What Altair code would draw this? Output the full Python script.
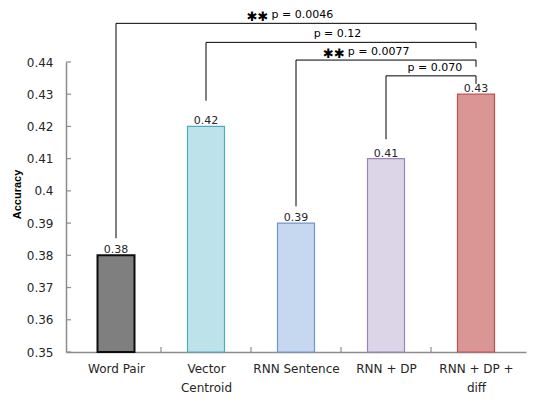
import altair as alt
import pandas as pd

# ---- data ----
categories = ["Word Pair", "Vector Centroid", "RNN Sentence", "RNN + DP", "RNN + DP + diff"]
axis_labels = ["Word Pair", "Vector|Centroid", "RNN Sentence", "RNN + DP", "RNN + DP +|diff"]
accuracy = [0.38, 0.42, 0.39, 0.41, 0.43]
value_labels = ["0.38", "0.42", "0.39", "0.41", "0.43"]
fills = ["#7f7f7f", "#bee2ea", "#c6d8ef", "#dcd5e7", "#d99694"]
strokes = ["#0d0d0d", "#4bacc6", "#6f97cf", "#9a86bd", "#c0504d"]
stroke_w = [2.0, 1.2, 1.2, 1.2, 1.2]
baseline_value = 0.35

# significance comparisons (each against "RNN + DP + diff")
cmp_left = [0, 1, 2, 3]
cmp_right = [4, 4, 4, 4]
cmp_level = [0.4520, 0.4461, 0.4406, 0.4357]
cmp_left_end = [0.3853, 0.4280, 0.3952, 0.4160]
cmp_right_end = [0.4498, 0.4443, 0.4385, 0.4332]
cmp_text = ["p = 0.0046", "p = 0.12", "p = 0.0077", "p = 0.070"]
cmp_stars = ["\u2731\u2731", "", "\u2731\u2731", ""]
cmp_text_x = [1.728, 2.196, 2.576, 3.239]

y_ticks = [0.35, 0.36, 0.37, 0.38, 0.39, 0.40, 0.41, 0.42, 0.43, 0.44]
x_band_edges = [0.5, 1.5, 2.5, 3.5]

W, H = 460, 290

bars = pd.DataFrame({
    "idx": list(range(len(categories))),
    "cat": categories,
    "acc": accuracy,
    "base": [baseline_value] * len(categories),
    "lab": value_labels,
    "fill": fills,
    "stroke": strokes,
    "sw": stroke_w,
})

segs = []
for l, r, lv, le, re_ in zip(cmp_left, cmp_right, cmp_level, cmp_left_end, cmp_right_end):
    segs.append({"x": l, "x2": r, "y": lv, "y2": lv})
    segs.append({"x": l, "x2": l, "y": lv, "y2": le})
    segs.append({"x": r, "x2": r, "y": lv, "y2": re_})
segs = pd.DataFrame(segs)

notes = pd.DataFrame({"x": cmp_text_x, "y": cmp_level, "t": cmp_text, "s": cmp_stars})

label_expr = "split(" + str(axis_labels) + "[datum.value], '|')"

xscale = alt.Scale(domain=[-0.5, 4.5], nice=False, zero=False)
yscale = alt.Scale(domain=[0.35, 0.44], nice=False, zero=False)

xaxis = alt.Axis(values=[0, 1, 2, 3, 4], labelExpr=label_expr, ticks=False,
                 grid=False, labelPadding=11, labelLineHeight=19,
                 labelFontSize=12, labelColor="#262626", labelFont="DejaVu Sans",
                 labelOverlap=False, labelBound=False, title=None,
                 domainColor="#8c8c8c", domainWidth=1.5, labelBaseline="top")
yaxis = alt.Axis(values=y_ticks, format="~g", ticks=False, grid=False,
                 labelOverlap=False, labelBound=False, title="Accuracy",
                 labelPadding=13, labelFontSize=12, labelColor="#262626",
                 labelFont="DejaVu Sans", domainColor="#8c8c8c", domainWidth=1.5,
                 titleFont="Liberation Sans", titleFontSize=11, titleFontWeight="bold",
                 titleColor="#000000", titleX=-44, titleY=132)


def X(field):
    return alt.X(field, scale=xscale, axis=xaxis, title=None)


def Y(field):
    return alt.Y(field, scale=yscale, axis=yaxis, title="Accuracy")


base = alt.Chart(bars)

bar = base.mark_bar(size=37).encode(
    x=X("idx:Q"),
    y=Y("acc:Q"),
    y2="base:Q",
    fill=alt.Fill("fill:N", scale=None),
    stroke=alt.Stroke("stroke:N", scale=None),
    strokeWidth=alt.StrokeWidth("sw:Q", scale=None),
)

vals = base.mark_text(baseline="alphabetic", dy=-2, fontSize=11, font="DejaVu Sans",
                      color="#262626").encode(x=X("idx:Q"), y=Y("acc:Q"), text="lab:N")

yt = alt.Chart(pd.DataFrame({"v": y_ticks})).mark_rule(color="#8c8c8c", strokeWidth=1.2).encode(
    y=Y("v:Q"), x=alt.value(0), x2=alt.value(5))
xt = alt.Chart(pd.DataFrame({"v": x_band_edges})).mark_rule(color="#8c8c8c", strokeWidth=1.2).encode(
    x=X("v:Q"), y=alt.value(H), y2=alt.value(H - 5))

lines = alt.Chart(segs).mark_rule(color="#000000", strokeWidth=1).encode(
    x=X("x:Q"), x2="x2:Q", y=Y("y:Q"), y2="y2:Q")

ptext = alt.Chart(notes).mark_text(align="left", baseline="bottom", dy=-3, fontSize=11,
                                   font="DejaVu Sans", color="#000000").encode(
    x=X("x:Q"), y=Y("y:Q"), text="t:N")
stars = alt.Chart(notes).mark_text(align="right", baseline="bottom", dx=-3, dy=1, fontSize=13,
                                   font="DejaVu Sans", color="#000000").encode(
    x=X("x:Q"), y=Y("y:Q"), text="s:N")

chart = alt.layer(bar, vals, yt, xt, lines, ptext, stars).properties(
    width=W, height=H,
    autosize=alt.AutoSizeParams(type="none"),
    padding={"left": 58, "top": 54, "right": 13, "bottom": 42},
).configure_view(stroke=None).configure_axis(labelOverlap=False)

chart.save("out.html", embed_options={"renderer": "svg", "actions": False})
